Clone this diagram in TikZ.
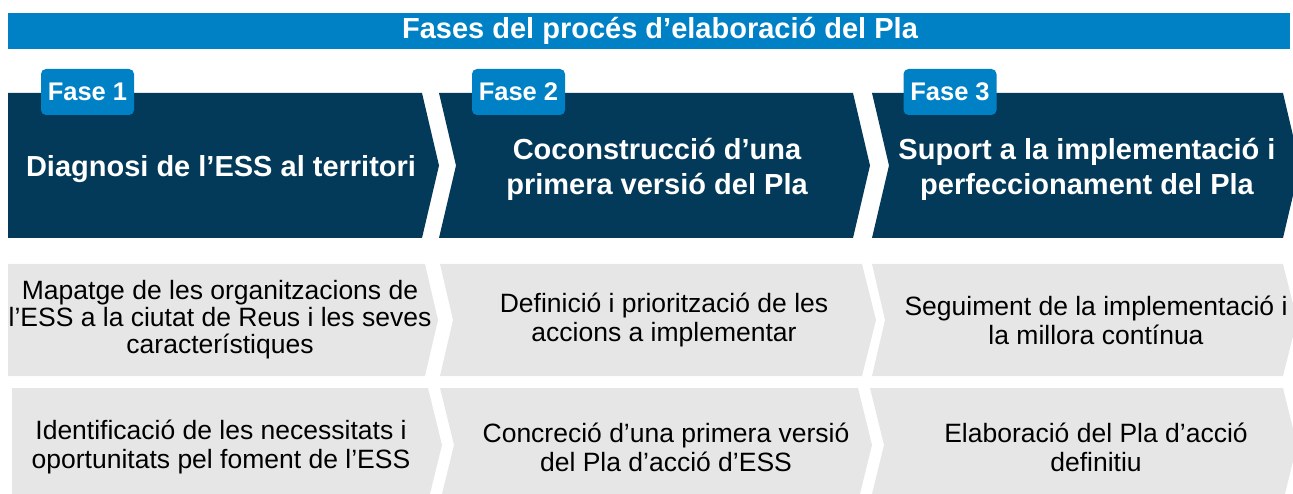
\documentclass[tikz,border=0pt]{standalone}
\usepackage{fontspec}
\setmainfont{Liberation Sans}
\usetikzlibrary{positioning}
\definecolor{barblue}{HTML}{0081C6}
\definecolor{navy}{HTML}{033A5A}
\definecolor{taskgray}{HTML}{E6E6E6}
\begin{document}
\begin{tikzpicture}[x=1pt,y=-1pt,
  phase/.style={text=white,font=\fontsize{29}{35}\selectfont\bfseries,align=center},
  task/.style={text=black,font=\fontsize{26.5}{29}\selectfont,align=center},
  tab/.style={fill=barblue,rounded corners=5pt,minimum width=93pt,minimum height=46pt,
    inner sep=0pt,text=white,font=\fontsize{25.5}{30}\selectfont\bfseries}]
\clip (0,0) rectangle (1293,494);
% title bar
\fill[barblue] (8,13) rectangle (1290,49);
\node[text=white,font=\fontsize{29}{35}\selectfont\bfseries] (title) at (660,31) {Fases del procés d’elaboració del Pla};
% phases
\fill[navy] (8,93) -- (422,93) -- (439,165.5) -- (422,238) -- (8,238) -- cycle;
\fill[navy] (439,93) -- (853,93) -- (870,165.5) -- (853,238) -- (439,238) -- (456,165.5) -- cycle;
\fill[navy] (872,93) -- (1283,93) -- (1300,165.5) -- (1283,238) -- (872,238) -- (889,165.5) -- cycle;
\node[phase] (ph1) at (221,169) {Diagnosi de l’ESS al territori};
\node[phase] (ph2) at (657,169) {Coconstrucció d’una\\primera versió del Pla};
\node[phase] (ph3) at (1087,169) {Suport a la implementació i\\perfeccionament del Pla};
\node[tab] (tab1) at (87.5,92) {Fase 1};
\node[tab] (tab2) at (518.5,92) {Fase 2};
\node[tab] (tab3) at (950,92) {Fase 3};
% tasks, first row
\fill[taskgray] (8,264) -- (425,264) -- (438,320) -- (425,376) -- (8,376) -- cycle;
\fill[taskgray] (440,264) -- (862,264) -- (876,320) -- (862,376) -- (440,376) -- (453,320) -- cycle;
\fill[taskgray] (872,264) -- (1283,264) -- (1297,320) -- (1283,376) -- (872,376) -- (885,320) -- cycle;
\node[task,font=\fontsize{26.5}{27}\selectfont] (t11) at (220,320) {Mapatge de les organitzacions de\\l’ESS a la ciutat de Reus i les seves\\característiques};
\node[task] (t12) at (664,320) {Definició i priorització de les\\accions a implementar};
\node[task] (t13) at (1096,320) {Seguiment de la implementació i\\la millora contínua};
% tasks, second row
\fill[taskgray] (12,388) -- (428,388) -- (442,445) -- (428,502) -- (12,502) -- cycle;
\fill[taskgray] (440,388) -- (858,388) -- (872,445) -- (858,502) -- (440,502) -- (454,445) -- cycle;
\fill[taskgray] (870,388) -- (1283,388) -- (1297,445) -- (1283,502) -- (870,502) -- (884,445) -- cycle;
\node[task] (t21) at (221,447) {Identificació de les necessitats i\\oportunitats pel foment de l’ESS};
\node[task] (t22) at (666,447) {Concreció d’una primera versió\\del Pla d’acció d’ESS};
\node[task] (t23) at (1096,447) {Elaboració del Pla d’acció\\definitiu};
\end{tikzpicture}
\end{document}
